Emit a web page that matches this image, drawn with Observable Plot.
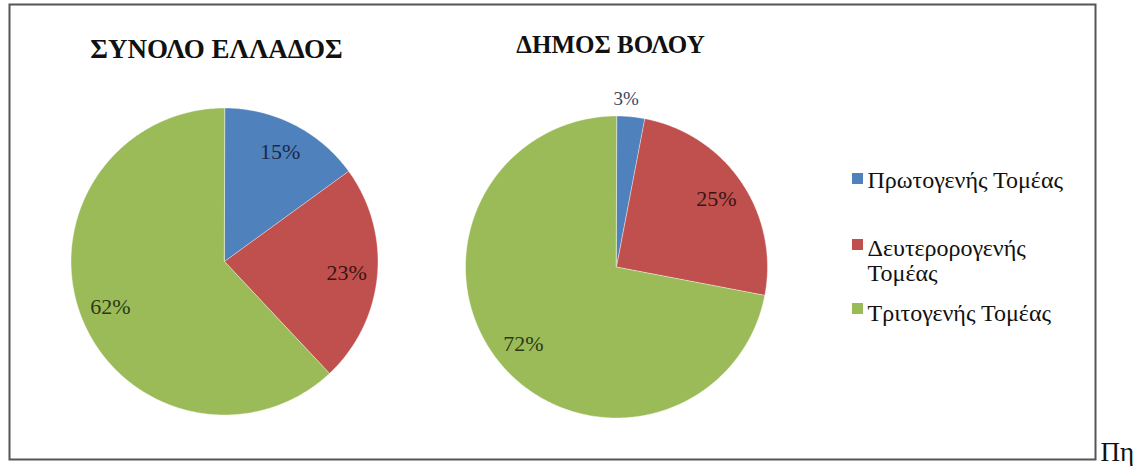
<!DOCTYPE html>
<html>
<head>
<meta charset="utf-8">
<script src="https://cdn.jsdelivr.net/npm/d3@7"></script>
<script src="https://cdn.jsdelivr.net/npm/@observablehq/plot@0.6"></script>
<style>
  html, body { margin: 0; padding: 0; background: #fff; }
  #chart svg { display: block; }
</style>
</head>
<body>
<div id="chart"></div>
<script>
// ---- data ----
const categories = ["Πρωτογενής Τομέας", "Δευτερορογενής Τομέας", "Τριτογενής Τομέας"];
const legendLabels = ["Πρωτογενής Τομέας", "Δευτερορογενής\nΤομέας", "Τριτογενής Τομέας"];
const pieTitles = ["ΣΥΝΟΛΟ ΕΛΛΑΔΟΣ", "ΔΗΜΟΣ ΒΟΛΟΥ"];
const greeceShares = [15, 23, 62];
const volosShares = [3, 25, 72];
const sliceColors = ["#4F81BD", "#C0504D", "#9BBB59"];
const footerText = "Πη";

// ---- layout (pixel units, mapped through identity-like linear scales) ----
const W = 1138, H = 466;
const SERIF = "Liberation Serif";
const labelInk = ["#1b2a48", "#3b1513", "#2c3a17"];
const pies = [
  {title: pieTitles[0], shares: greeceShares, cx: 224, cy: 261, r: 153.5, tx: 216, ty: 57, fs: 27},
  {title: pieTitles[1], shares: volosShares, cx: 616, cy: 266.5, r: 151, tx: 610, ty: 52, fs: 25}
];

const slicePts = [];
const labels = [];
pies.forEach((p, pi) => {
  const arcs = d3.pie().sort(null).value(d => d)(p.shares);
  arcs.forEach((a, i) => {
    const key = pi + "-" + i;
    slicePts.push({key, cat: categories[i], x: p.cx, y: p.cy});
    const n = Math.max(2, Math.ceil((a.endAngle - a.startAngle) / 0.01));
    for (let k = 0; k <= n; k++) {
      const t = a.startAngle + (a.endAngle - a.startAngle) * k / n;
      slicePts.push({key, cat: categories[i], x: p.cx + p.r * Math.sin(t), y: p.cy - p.r * Math.cos(t)});
    }
    const mid = (a.startAngle + a.endAngle) / 2;
    const share = p.shares[i] / d3.sum(p.shares);
    const outside = share < 0.05;
    const rr = outside ? p.r * 1.1 : p.r * 0.8;
    labels.push({
      text: p.shares[i] + "%", i, outside,
      x: p.cx + rr * Math.sin(mid) - (outside ? 6 : 0),
      y: p.cy - rr * Math.cos(mid) - (outside ? 3 : 0)
    });
  });
});

const legendRows = categories.map((c, i) => ({cat: c, label: legendLabels[i], i}));
const legendSquareY = [178, 244, 308];
const legendBaseY = [187, 280, 320];

const chart = Plot.plot({
  width: W, height: H,
  margin: 0,
  x: {domain: [0, W], range: [0, W], axis: null},
  y: {domain: [0, H], range: [0, H], axis: null},
  color: {domain: categories, range: sliceColors},
  style: {background: "#fff", fontFamily: SERIF},
  marks: [
    Plot.frame({insetLeft: 9, insetTop: 4, insetRight: W - 1095, insetBottom: H - 459, stroke: "#555", strokeWidth: 2}),
    Plot.line(slicePts, {x: "x", y: "y", z: "key", fill: "cat", stroke: "#ffffff", strokeWidth: 0.6, strokeOpacity: 0.7, curve: "linear-closed"}),
    Plot.text(labels, {x: "x", y: "y", text: "text", fill: d => d.outside ? "#3a4660" : labelInk[d.i], fontFamily: SERIF, fontSize: d => d.outside ? 19 : 22, textAnchor: "middle", lineAnchor: "middle"}),
    Plot.text(pies, {x: "tx", y: "ty", text: "title", fontFamily: SERIF, fontWeight: "bold", fontSize: "fs", fill: "#111", textAnchor: "middle", lineAnchor: "bottom"}),
    Plot.dot(legendRows, {x: () => 857, y: d => legendSquareY[d.i], fill: "cat", symbol: "square", r: 6.2, stroke: null}),
    Plot.text(legendRows, {x: () => 867, y: d => legendBaseY[d.i], text: "label", fontFamily: SERIF, fontSize: 24, fill: "#111", textAnchor: "start", lineAnchor: "bottom", lineHeight: 25 / 24}),
    Plot.text([footerText], {x: () => 1100, y: () => 460, text: d => d, fontFamily: SERIF, fontSize: 27, fill: "#111", textAnchor: "start", lineAnchor: "bottom"})
  ]
});
document.getElementById("chart").appendChild(chart);
</script>
</body>
</html>
